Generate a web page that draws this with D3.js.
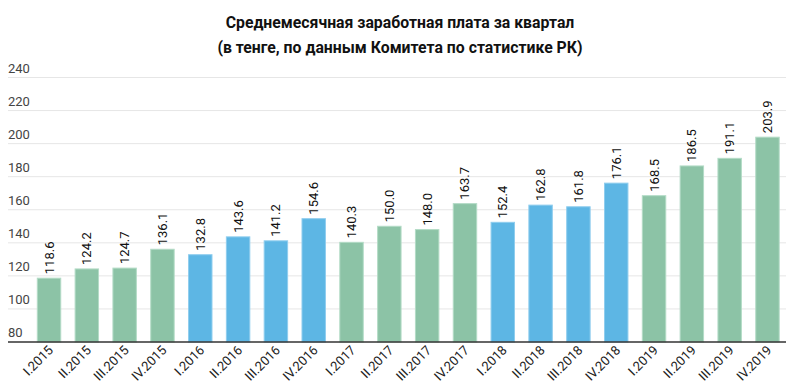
<!DOCTYPE html>
<html>
<head>
<meta charset="utf-8">
<script src="https://cdn.jsdelivr.net/npm/d3@7"></script>
<style>
  body { margin: 0; background: #fff; }
  svg { font-family: Roboto, sans-serif; display: block; }
</style>
</head>
<body>
<svg id="chart" width="800" height="389"></svg>
<script>
var quarters = ["I.2015", "II.2015", "III.2015", "IV.2015",
  "I.2016", "II.2016", "III.2016", "IV.2016",
  "I.2017", "II.2017", "III.2017", "IV.2017",
  "I.2018", "II.2018", "III.2018", "IV.2018",
  "I.2019", "II.2019", "III.2019", "IV.2019"];
var wages = [118.6, 124.2, 124.7, 136.1,
  132.8, 143.6, 141.2, 154.6,
  140.3, 150.0, 148.0, 163.7,
  152.4, 162.8, 161.8, 176.1,
  168.5, 186.5, 191.1, 203.9];
var yTicks = [80, 100, 120, 140, 160, 180, 200, 220, 240];
var titleLines = ["Среднемесячная заработная плата за квартал",
  "(в тенге, по данным Комитета по статистике РК)"];

var svg = d3.select("#chart");

var x = d3.scaleBand()
  .domain(quarters)
  .range([37.3, 779.2])
  .paddingInner(0.38)
  .paddingOuter(0);

var y = d3.scaleLinear()
  .domain([80, 240])
  .range([342, 77.5]);

// colour by year: odd years green, even years blue
function barColor(q) {
  var yr = +q.split(".")[1];
  return yr % 2 == 0 ? "#5db6e4" : "#8cc3a6";
}
function barStroke(q) {
  var yr = +q.split(".")[1];
  return yr % 2 == 0 ? "#8fcdee" : "#b3dbc6";
}

// title
svg.selectAll("text.title")
  .data(titleLines)
  .enter()
  .append("text")
  .attr("class", "title")
  .attr("x", 400)
  .attr("y", function(d, i) { return 28 + i * 24.5; })
  .attr("text-anchor", "middle")
  .style("font-size", "15.8px")
  .style("font-weight", "bold")
  .style("fill", "#111")
  .text(function(d) { return d; });

// grid + y labels
var grid = svg.append("g");
grid.selectAll("line")
  .data(yTicks.slice(1))
  .enter()
  .append("line")
  .attr("x1", 8)
  .attr("x2", 786)
  .attr("y1", function(d) { return y(d); })
  .attr("y2", function(d) { return y(d); })
  .attr("stroke", "#e6e6e6")
  .attr("stroke-width", 1);

grid.selectAll("text")
  .data(yTicks)
  .enter()
  .append("text")
  .attr("x", 8)
  .attr("y", function(d) { return y(d) - 5; })
  .style("font-size", "13px")
  .style("fill", "#444")
  .text(function(d) { return d; });

// bars
svg.append("g").selectAll("rect")
  .data(wages)
  .enter()
  .append("rect")
  .attr("x", function(d, i) { return x(quarters[i]); })
  .attr("width", x.bandwidth())
  .attr("y", function(d) { return y(d); })
  .attr("height", function(d) { return y(80) - y(d); })
  .attr("fill", function(d, i) { return barColor(quarters[i]); })
  .attr("stroke", function(d, i) { return barStroke(quarters[i]); })
  .attr("stroke-width", 1);

// value labels
svg.append("g").selectAll("text")
  .data(wages)
  .enter()
  .append("text")
  .attr("transform", function(d, i) {
    var cx = x(quarters[i]) + x.bandwidth() / 2 + 4.5;
    return "translate(" + cx + "," + (y(d) - 4) + ") rotate(-90)";
  })
  .style("font-size", "13px")
  .style("fill", "#111")
  .text(function(d) { return d.toFixed(1); });

// x axis line
svg.append("line")
  .attr("x1", 8)
  .attr("x2", 786)
  .attr("y1", y(80))
  .attr("y2", y(80))
  .attr("stroke", "#333")
  .attr("stroke-width", 1.5);

// x labels, slanted 45 degrees
var xLab = svg.append("g").selectAll("g")
  .data(quarters)
  .enter()
  .append("g")
  .attr("transform", function(d) {
    var cx = x(d) + x.bandwidth() / 2 + 5;
    return "translate(" + cx + ",351)";
  });
xLab.append("text")
  .attr("transform", "rotate(-45)")
  .attr("text-anchor", "end")
  .style("font-size", "13px")
  .style("fill", "#222")
  .text(function(d) { return d; });
</script>
</body>
</html>
